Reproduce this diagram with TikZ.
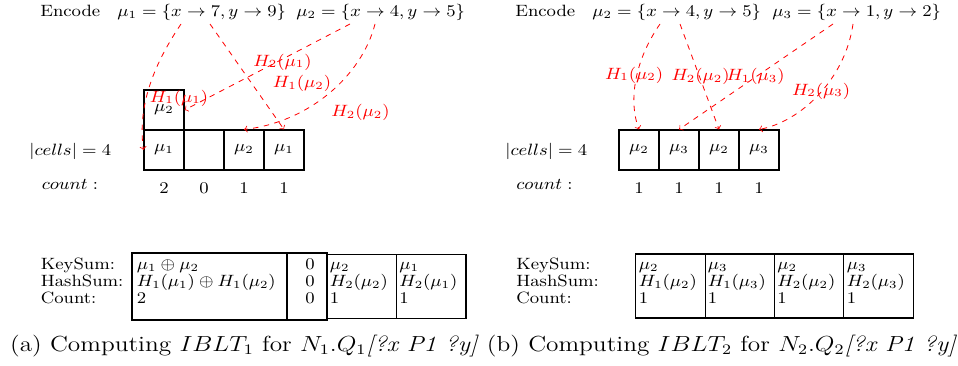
\documentclass[tikz,border=0pt]{standalone}
\usetikzlibrary{calc}
\begin{document}
\begin{tikzpicture}[x=0.55pt,y=-0.55pt,
  font=\fontsize{9}{11}\selectfont,
  hstretch/.style={execute at begin node={\setbox0=\hbox\bgroup},
                   execute at end node={\egroup\scalebox{#1}[1]{\box0}}},
  cell/.style={draw, line width=0.6pt, minimum width=22pt, minimum height=22pt, inner sep=0pt, hstretch=1.11},
  tbox/.style={draw, line width=0.6pt, inner sep=0pt},
  hashar/.style={red, dashed, line width=0.45pt, ->},
  hlab/.style={red, inner sep=0pt, hstretch=1.11},
  txt/.style={inner sep=0pt, anchor=base west, hstretch=1.11},
  numtxt/.style={inner sep=0pt, anchor=base, hstretch=1.11},
  tcell/.style={inner sep=0pt, anchor=base west, hstretch=1.11},
  tzero/.style={inner sep=0pt, anchor=base east, hstretch=1.11},
  captxt/.style={inner sep=0pt, anchor=base, font=\fontsize{12}{14}\selectfont, hstretch=1.16}
]
\useasboundingbox (0,0) rectangle (958,365);

% ================= (a) =================
\node[txt] (encA) at (40,17) {Encode};
\node[txt] (amu1) at (117,17) {$\mu_1=\{x\rightarrow 7, y\rightarrow 9\}$};
\node[txt] (amu2) at (296,17) {$\mu_2=\{x\rightarrow 4, y\rightarrow 5\}$};
\coordinate (aS1) at (181,24);
\coordinate (aS2) at (210,24);
\coordinate (aS3) at (350,24);
\coordinate (aS4) at (375,24);

\node[txt] (cellsA) at (29,155) {$|cells| = 4$};
\node[cell] (aTop) at (164,110) {$\mu_2$};
\node[cell] (a1) at (164,150) {$\mu_1$};
\node[cell] (a2) at (204,150) {};
\node[cell] (a3) at (244,150) {$\mu_2$};
\node[cell] (a4) at (284,150) {$\mu_1$};

\node[txt] (countA) at (41.5,189) {$count:$};
\node[numtxt] (ac1) at (164,193) {2};
\node[numtxt] (ac2) at (204,193) {0};
\node[numtxt] (ac3) at (244,193) {1};
\node[numtxt] (ac4) at (284,193) {1};

\draw[hashar] (aS1) .. controls (150,70) and (138,110) .. (a1.west);
\draw[hashar] (aS2) -- (a4.north);
\draw[hashar] (aS3) -- (aTop.east);
\draw[hashar] (aS4) .. controls (362,75) and (310,122) .. (a3.north);

\node[hlab] (alab1) at (179,98) {$H_1(\mu_1)$};
\node[hlab] (alab2) at (282.5,62) {$H_2(\mu_1)$};
\node[hlab] (alab3) at (302,83.5) {$H_1(\mu_2)$};
\node[hlab] (alab4) at (360.5,112.5) {$H_2(\mu_2)$};

% table (a)
\node[txt] (aKS) at (40.5,269.5) {KeySum:};
\node[txt] (aHS) at (40.5,286.5) {HashSum:};
\node[txt] (aCT) at (40.5,303.5) {Count:};
\node[tbox, minimum width=85.25pt, minimum height=36.85pt] (aB1) at (209.5,286.5) {};
\node[tbox, minimum width=22pt, minimum height=36.85pt] (aB2) at (307,286.5) {};
\node[tbox, minimum width=38.2pt, minimum height=35.2pt] (aB3) at (361.75,286.5) {};
\node[tbox, minimum width=38.2pt, minimum height=35.2pt] (aB4) at (431.25,286.5) {};
\node[tcell] (aB1r1) at (136.5,269.5) {$\mu_1\oplus\mu_2$};
\node[tcell] (aB1r2) at (136.5,286.5) {$H_1(\mu_1)\oplus H_1(\mu_2)$};
\node[tcell] (aB1r3) at (136.5,303.5) {2};
\node[tzero] (aB2r1) at (315,269.5) {0};
\node[tzero] (aB2r2) at (315,286.5) {0};
\node[tzero] (aB2r3) at (315,303.5) {0};
\node[tcell] (aB3r1) at (329.5,269.5) {$\mu_2$};
\node[tcell] (aB3r2) at (329.5,286.5) {$H_2(\mu_2)$};
\node[tcell] (aB3r3) at (329.5,303.5) {1};
\node[tcell] (aB4r1) at (399,269.5) {$\mu_1$};
\node[tcell] (aB4r2) at (399,286.5) {$H_2(\mu_1)$};
\node[tcell] (aB4r3) at (399,303.5) {1};

\node[captxt] (capA) at (244.5,351) {(a) Computing $IBLT_1$ for $N_1.Q_1$\textit{[?x P1 ?y]}};

% ================= (b) =================
\node[txt] (encB) at (515,17) {Encode};
\node[txt] (bmu2) at (592,17) {$\mu_2=\{x\rightarrow 4, y\rightarrow 5\}$};
\node[txt] (bmu3) at (772,17) {$\mu_3=\{x\rightarrow 1, y\rightarrow 2\}$};
\coordinate (bS1) at (660,24);
\coordinate (bS2) at (680,24);
\coordinate (bS3) at (833,24);
\coordinate (bS4) at (853,24);

\node[txt] (cellsB) at (505,155) {$|cells| = 4$};
\node[cell] (b1) at (639,150) {$\mu_2$};
\node[cell] (b2) at (679,150) {$\mu_3$};
\node[cell] (b3) at (719,150) {$\mu_2$};
\node[cell] (b4) at (759,150) {$\mu_3$};

\node[txt] (countB) at (516,189) {$count:$};
\node[numtxt] (bc1) at (639,193) {1};
\node[numtxt] (bc2) at (679,193) {1};
\node[numtxt] (bc3) at (719,193) {1};
\node[numtxt] (bc4) at (759,193) {1};

\draw[hashar] (bS1) .. controls (635,60) and (628,100) .. (b1.north);
\draw[hashar] (bS2) -- (b3.north);
\draw[hashar] (bS3) -- (b2.north);
\draw[hashar] (bS4) .. controls (845,80) and (800,122) .. (b4.north);

\node[hlab] (blab1) at (634,75) {$H_1(\mu_2)$};
\node[hlab] (blab2) at (700.5,76.5) {$H_2(\mu_2)$};
\node[hlab] (blab3) at (755.5,76.5) {$H_1(\mu_3)$};
\node[hlab] (blab4) at (821,91) {$H_2(\mu_3)$};

% table (b)
\node[txt] (bKS) at (516,269.5) {KeySum:};
\node[txt] (bHS) at (516,286.5) {HashSum:};
\node[txt] (bCT) at (516,303.5) {Count:};
\node[tbox, minimum width=38.1pt, minimum height=35.2pt] (bB1) at (670.5,286) {};
\node[tbox, minimum width=38.1pt, minimum height=35.2pt] (bB2) at (739.75,286) {};
\node[tbox, minimum width=38.1pt, minimum height=35.2pt] (bB3) at (809.25,286) {};
\node[tbox, minimum width=38.1pt, minimum height=35.2pt] (bB4) at (878.5,286) {};
\node[tcell] (bB1r1) at (638.5,269.5) {$\mu_2$};
\node[tcell] (bB1r2) at (638.5,286.5) {$H_1(\mu_2)$};
\node[tcell] (bB1r3) at (638.5,303.5) {1};
\node[tcell] (bB2r1) at (707.5,269.5) {$\mu_3$};
\node[tcell] (bB2r2) at (707.5,286.5) {$H_1(\mu_3)$};
\node[tcell] (bB2r3) at (707.5,303.5) {1};
\node[tcell] (bB3r1) at (777,269.5) {$\mu_2$};
\node[tcell] (bB3r2) at (777,286.5) {$H_2(\mu_2)$};
\node[tcell] (bB3r3) at (777,303.5) {1};
\node[tcell] (bB4r1) at (846.5,269.5) {$\mu_3$};
\node[tcell] (bB4r2) at (846.5,286.5) {$H_2(\mu_3)$};
\node[tcell] (bB4r3) at (846.5,303.5) {1};

\node[captxt] (capB) at (722,351) {(b) Computing $IBLT_2$ for $N_2.Q_2$\textit{[?x P1 ?y]}};
\end{tikzpicture}
\end{document}
